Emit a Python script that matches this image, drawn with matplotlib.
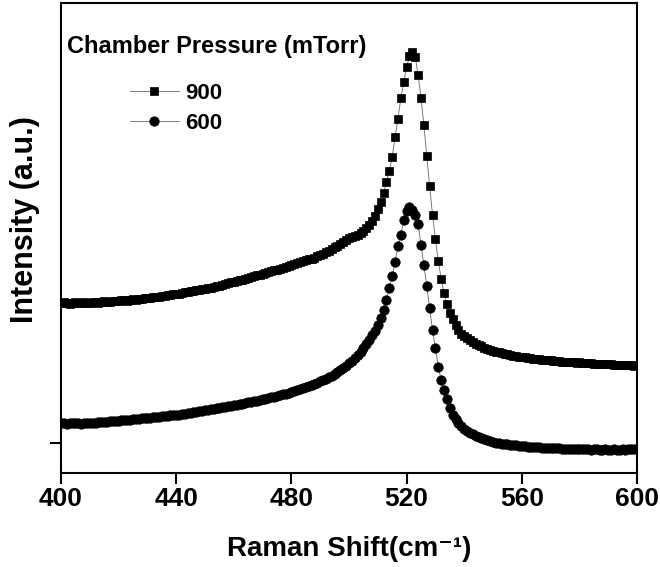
import numpy as np
import matplotlib
matplotlib.use("Agg")
import matplotlib.pyplot as plt

plt.rcParams['font.family'] = ['Liberation Sans', 'DejaVu Sans']
plt.rcParams['font.weight'] = 'bold'

# Raman shift sampling grid (cm^-1)
shift = np.arange(400, 601, 1)

# Intensity (a.u.), 900 mTorr
i_900 = [
    170, 171, 170, 169, 170, 171, 170, 170, 171, 170,
    170, 171, 171, 170, 171, 172, 171, 171, 172, 172,
    172, 173, 173, 172, 173, 174, 173, 174, 174, 175,
    175, 175, 176, 176, 176, 177, 177, 178, 178, 179,
    179, 179, 180, 181, 181, 182, 182, 183, 183, 184,
    184, 185, 185, 186, 187, 187, 188, 189, 190, 191,
    191, 192, 193, 193, 194, 195, 196, 197, 198, 198,
    199, 200, 201, 202, 203, 203, 204, 205, 206, 207,
    208, 209, 210, 211, 212, 213, 214, 214, 215, 217,
    218, 219, 221, 222, 224, 226, 227, 229, 231, 233,
    235, 236, 237, 238, 240, 242, 245, 248, 252, 257,
    264, 271, 280, 291, 302, 316, 336, 354, 375, 391,
    406, 417, 421, 416, 398, 375, 348, 317, 287, 258,
    234, 212, 194, 180, 169, 160, 154, 148, 143, 139,
    137, 135, 133, 131, 129, 128, 127, 125, 124, 123,
    122, 121, 121, 120, 119, 119, 118, 117, 117, 116,
    116, 116, 115, 115, 114, 114, 114, 113, 113, 113,
    113, 112, 112, 112, 111, 111, 111, 111, 111, 110,
    111, 110, 110, 110, 110, 109, 109, 109, 109, 109,
    109, 109, 108, 108, 108, 108, 108, 108, 108, 107,
    108,
]

# Intensity (a.u.), 600 mTorr
i_600 = [
    50, 50, 49, 50, 50, 50, 50, 49, 50, 50,
    50, 50, 50, 51, 51, 51, 51, 52, 52, 52,
    52, 53, 53, 53, 53, 54, 54, 54, 55, 55,
    55, 55, 56, 56, 56, 57, 57, 57, 58, 58,
    58, 58, 59, 59, 60, 60, 61, 61, 62, 62,
    63, 63, 64, 64, 65, 65, 66, 66, 67, 67,
    68, 68, 69, 69, 70, 71, 71, 72, 72, 73,
    74, 74, 75, 76, 76, 77, 78, 79, 79, 80,
    81, 82, 83, 84, 85, 86, 87, 88, 89, 90,
    92, 93, 94, 96, 97, 99, 101, 103, 105, 107,
    110, 112, 115, 118, 121, 125, 129, 133, 138, 142,
    148, 155, 163, 173, 185, 197, 211, 227, 238, 253,
    262, 266, 263, 258, 249, 228, 208, 187, 165, 143,
    125, 106, 93, 83, 74, 65, 58, 54, 50, 47,
    44, 42, 40, 39, 37, 36, 35, 34, 33, 32,
    31, 30, 30, 29, 29, 29, 28, 28, 28, 27,
    27, 27, 26, 26, 26, 26, 26, 25, 25, 25,
    25, 25, 25, 25, 24, 24, 24, 24, 24, 24,
    24, 24, 24, 24, 23, 24, 24, 23, 23, 24,
    23, 23, 24, 23, 23, 24, 23, 24, 24, 24,
    24,
]

series_labels = ['900', '600']
legend_title = 'Chamber Pressure (mTorr)'
x_ticks = [400, 440, 480, 520, 560, 600]

fig = plt.figure(figsize=(6.6, 5.67), dpi=100)
ax = fig.add_axes([61 / 660, 1 - 473 / 567, 576 / 660, 470 / 567])

line_kw = dict(color='#666666', linewidth=0.6, markerfacecolor='black',
               markeredgecolor='black', markeredgewidth=0.5)
ax.plot(shift, i_900, marker='s', markersize=6.2, label=series_labels[0], **line_kw)
ax.plot(shift, i_600, marker='o', markersize=6.8, label=series_labels[1], **line_kw)

ax.set_xlim(400, 600)
ax.set_ylim(0, 470)
ax.set_xticks(x_ticks)
ax.set_xticklabels([str(t) for t in x_ticks])
ax.set_yticks([30])
ax.set_yticklabels([''])

for side in ['left', 'right', 'top', 'bottom']:
    ax.spines[side].set_linewidth(1.5)
ax.tick_params(axis='both', direction='out', length=8, width=1.5,
               labelsize=19, pad=2)
for lab in ax.get_xticklabels():
    lab.set_fontweight('bold')

ax.set_xlabel('Raman Shift(cm\u207b\u00b9)', fontsize=20, fontweight='bold', labelpad=18)
ax.set_ylabel('Intensity (a.u.)', fontsize=22, fontweight='bold')
ax.yaxis.set_label_coords(-0.036, 0.54)

ax.text(6 / 576, (473 - 47) / 470, legend_title, transform=ax.transAxes,
        fontsize=17, fontweight='bold', ha='left', va='center')
ax.legend(loc='upper left', bbox_to_anchor=(69 / 576, (473 - 83) / 470),
          frameon=False, borderpad=0, borderaxespad=0, handlelength=2.2,
          handletextpad=0.3, labelspacing=0.4, numpoints=1,
          prop={'size': 16, 'weight': 'bold'})

fig.savefig('out.png', dpi=100)
